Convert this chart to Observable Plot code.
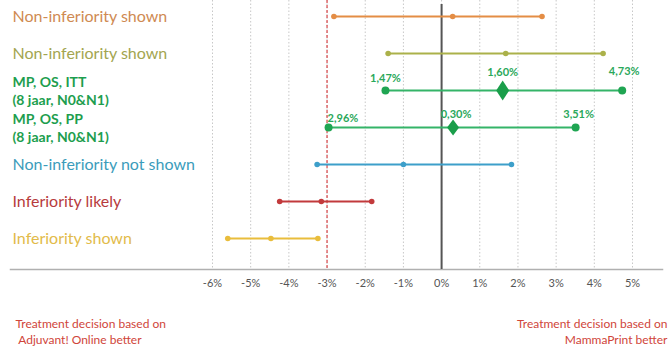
<!DOCTYPE html>
<html>
<head>
<meta charset="utf-8">
<script src="https://cdn.jsdelivr.net/npm/d3@7"></script>
<script src="https://cdn.jsdelivr.net/npm/@observablehq/plot@0.6"></script>
<style>
  html, body { margin: 0; padding: 0; background: #fff; }
  #chart svg { display: block; }
</style>
</head>
<body>
<div id="chart"></div>
<script>
// Rows of the forest plot, top to bottom
const rowIds = ["ni1", "ni2", "itt", "pp", "nins", "il", "is"];
const rowLabels = [
  "Non-inferiority shown",
  "Non-inferiority shown",
  "MP, OS, ITT\n(8 jaar, N0&N1)",
  "MP, OS, PP\n(8 jaar, N0&N1)",
  "Non-inferiority not shown",
  "Inferiority likely",
  "Inferiority shown"
];
// Difference (%) : lower bound, estimate, upper bound
const lower    = [-2.82, -1.40, -1.47, -2.96, -3.26, -4.24, -5.60];
const estimate = [ 0.29,  1.68,  1.60,  0.30, -1.00, -3.15, -4.47];
const upper    = [ 2.63,  4.23,  4.73,  3.51,  1.83, -1.83, -3.24];

const xTicks = [-6, -5, -4, -3, -2, -1, 0, 1, 2, 3, 4, 5];
const margin = -3;

const leftCaption = "Treatment decision based on\n Adjuvant! Online better";
const rightCaption = "Treatment decision based on\nMammaPrint better";

// Colours per row
const lineColors = ["#e48d45", "#abb14a", "#34b468", "#34b468", "#3d9fca", "#c23a3c", "#e9bd3c"];
const textColors = ["#cf8a52", "#a3a550", "#1d9e4e", "#1d9e4e", "#3b9cbb", "#b73b3d", "#e2bb4a"];

const rows = rowIds.map((id, i) => ({
  id, label: rowLabels[i], lo: lower[i], est: estimate[i], hi: upper[i]
}));
const plain = rows.filter(r => r.id !== "itt" && r.id !== "pp");
const green = rows.filter(r => r.id === "itt" || r.id === "pp");
const greenRow = id => rows.filter(r => r.id === id);
const fmt = v => Math.abs(v).toFixed(2).replace(".", ",") + "%";

// Tall diamonds for the green point estimates
const diamond = (w, h) => ({
  draw(context) {
    context.moveTo(0, -h);
    context.lineTo(w, 0);
    context.lineTo(0, h);
    context.lineTo(-w, 0);
    context.closePath();
  }
});

const labelFont = "Lato, 'Open Sans', sans-serif";
const valueLabel = {fill: "#2aa85a", fontWeight: "bold", fontSize: 11};

const chart = Plot.plot({
  width: 670,
  height: 349,
  marginTop: 0,
  marginLeft: 10,
  marginRight: 8,
  marginBottom: 80,
  style: {fontFamily: labelFont, background: "#fff"},
  x: {domain: [-6, 5], range: [212, 632]},
  y: {type: "point", domain: rowIds, range: [13, 240], padding: 0, axis: null},
  color: {type: "ordinal", domain: rowIds, range: lineColors},
  marks: [
    // dotted vertical grid
    Plot.ruleX(xTicks, {stroke: "#c8c8c8", strokeWidth: 1, strokeDasharray: "1.5,2"}),
    // baseline
    Plot.frame({anchor: "bottom", stroke: "#b0b0b0", strokeWidth: 1.5}),
    // zero line and non-inferiority margin
    Plot.ruleX([0], {stroke: "#555", strokeWidth: 2, insetTop: 4}),
    Plot.ruleX([margin], {stroke: "#d9474a", strokeWidth: 1.2, strokeDasharray: "3,2"}),
    Plot.axisX({
      ticks: xTicks, tickSize: 0, tickPadding: 10,
      tickFormat: d => d + "%", fontSize: 11, fill: "#555", label: null
    }),
    // confidence intervals
    Plot.link(rows, {x1: "lo", x2: "hi", y1: "id", y2: "id", stroke: "id", strokeWidth: 2}),
    Plot.dot(plain, {x: "lo", y: "id", fill: "id", r: 2.8}),
    Plot.dot(plain, {x: "est", y: "id", fill: "id", r: 2.8}),
    Plot.dot(plain, {x: "hi", y: "id", fill: "id", r: 2.8}),
    Plot.dot(green, {x: "lo", y: "id", fill: "#1fa552", r: 4}),
    Plot.dot(green, {x: "hi", y: "id", fill: "#1fa552", r: 4}),
    Plot.dot(greenRow("itt"), {x: "est", y: "id", fill: "#1a9e4a", symbol: diamond(6.5, 10), r: 5}),
    Plot.dot(greenRow("pp"), {x: "est", y: "id", fill: "#1a9e4a", symbol: diamond(6, 8), r: 5}),
    // value labels, ITT row
    Plot.text(greenRow("itt"), {x: "lo", y: "id", text: d => fmt(d.lo), dy: -12, ...valueLabel}),
    Plot.text(greenRow("itt"), {x: "est", y: "id", text: d => fmt(d.est), dy: -18, dx: 0, ...valueLabel}),
    Plot.text(greenRow("itt"), {x: "hi", y: "id", text: d => fmt(d.hi), dy: -19, dx: 2, ...valueLabel}),
    // value labels, PP row
    Plot.text(greenRow("pp"), {x: "lo", y: "id", text: d => fmt(d.lo), dy: -9, dx: -1, textAnchor: "start", ...valueLabel}),
    Plot.text(greenRow("pp"), {x: "est", y: "id", text: d => fmt(d.est), dy: -13, dx: 3, ...valueLabel}),
    Plot.text(greenRow("pp"), {x: "hi", y: "id", text: d => fmt(d.hi), dy: -13, dx: 3, ...valueLabel}),
    // row labels
    Plot.text(plain, {
      y: "id", text: "label", frameAnchor: "left", textAnchor: "start", dx: 2,
      fill: d => textColors[rowIds.indexOf(d.id)], fontSize: 16
    }),
    Plot.text(green, {
      y: "id", text: "label", frameAnchor: "left", textAnchor: "start", dx: 2,
      fill: "#1d9e4e", fontWeight: "bold", fontSize: 14, lineHeight: 1.3
    }),
    // captions under the axis
    Plot.text([leftCaption], {
      text: d => d, frameAnchor: "bottom-left", textAnchor: "start", lineAnchor: "top",
      dx: 5, dy: 47, fill: "#d0453a", fontSize: 12, lineHeight: 1.33
    }),
    Plot.text([rightCaption], {
      text: d => d, frameAnchor: "bottom-right", textAnchor: "end", lineAnchor: "top",
      dx: 5, dy: 47, fill: "#d0453a", fontSize: 12, lineHeight: 1.33
    })
  ]
});

document.getElementById("chart").append(chart);
</script>
</body>
</html>
